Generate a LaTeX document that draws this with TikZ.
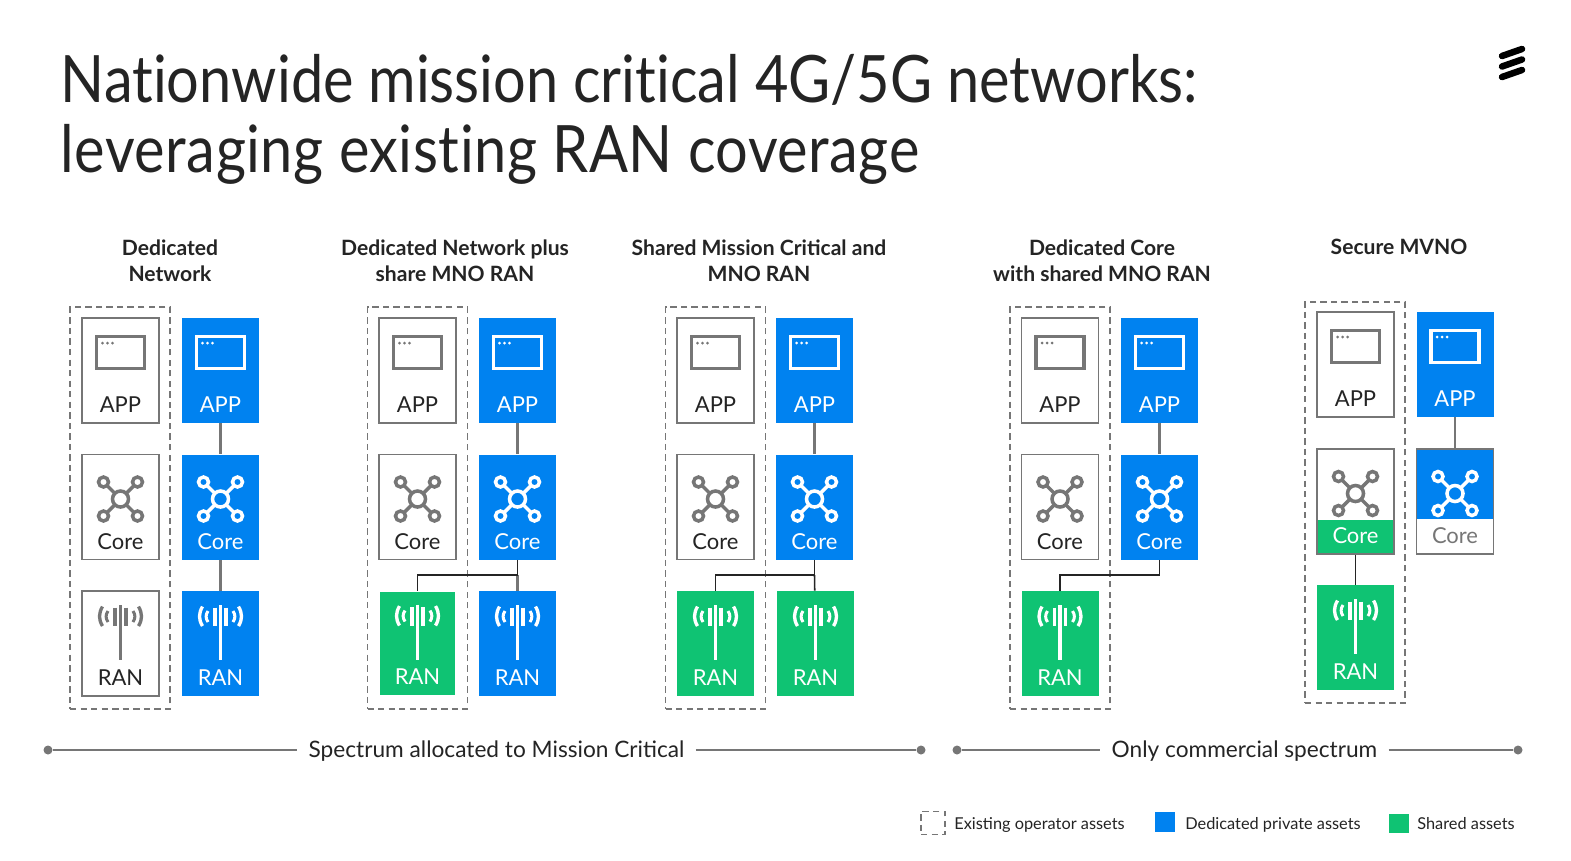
\documentclass[tikz,border=0pt]{standalone}
\usepackage{fontspec}
\setmainfont{Lato}
\newfontfamily\titlefont[FakeStretch=0.883,Ligatures=NoCommon]{Lato}
\usepackage{tikz}
\definecolor{ericblue}{HTML}{0082F0}
\definecolor{ericgreen}{HTML}{0FC373}
\definecolor{ericgrey}{HTML}{767676}
\definecolor{ericink}{HTML}{242424}
\tikzset{
  tile/.style={minimum width=1.54cm,inner xsep=0pt,inner ysep=0pt,text height=1.89cm,text depth=0.21cm,font=\fontsize{12.5}{14}\selectfont},
  oldtile/.style={tile,draw=ericgrey,line width=1pt,fill=white,text=ericink},
  bluetile/.style={tile,fill=ericblue,text=white},
  greentile/.style={tile,fill=ericgreen,text=white},
  dashbox/.style={draw=ericgrey,line width=1pt,dash pattern=on 3.6pt off 2.4pt,minimum width=2cm,inner sep=0pt},
  link/.style={draw=ericgrey,line width=1.2pt},
  feed/.style={draw=ericink,line width=0.9pt},
  heading/.style={align=center,font=\fontsize{12}{14.8}\selectfont\bfseries,text=ericink,inner sep=0pt},
  span/.style={draw=ericgrey,line width=1.1pt},
  spantext/.style={font=\fontsize{12.9}{15}\selectfont,text=ericink,inner sep=0pt},
  dot/.style={circle,fill=ericgrey,minimum size=0.18cm,inner sep=0pt},
  keytext/.style={anchor=base west,font=\fontsize{9.3}{11}\selectfont,text=ericink,inner sep=0pt}
}
\newcommand{\appicon}[2]{
\begin{scope}[shift={(#1.center)}]
\draw[#2,line width=1.9pt] (-24,-34) rectangle (24,-2);
\fill[#2] (-18,-27.5) circle (1.5);
\fill[#2] (-13,-27.5) circle (1.5);
\fill[#2] (-8,-27.5) circle (1.5);
\end{scope}
}
\newcommand{\coreicon}[2]{
\begin{scope}[shift={(#1.center)},yshift=0.16cm]
\draw[#2,line width=2pt] (0,0) circle (8);
\draw[#2,line width=2pt] (-17,-17) circle (5);
\draw[#2,line width=2pt] (17,-17) circle (5);
\draw[#2,line width=2pt] (-17,17) circle (5);
\draw[#2,line width=2pt] (17,17) circle (5);
\draw[#2,line width=2pt] (-5.7,-5.7) -- (-13.5,-13.5);
\draw[#2,line width=2pt] (5.7,-5.7) -- (13.5,-13.5);
\draw[#2,line width=2pt] (-5.7,5.7) -- (-13.5,13.5);
\draw[#2,line width=2pt] (5.7,5.7) -- (13.5,13.5);
\end{scope}
}
\newcommand{\ranicon}[2]{
\begin{scope}[shift={(#1.center)}]
\draw[#2,line width=2pt] (0,-38.5) -- (0,16.5);
\draw[#2,line width=2pt] (-5.5,-36) -- (-5.5,-17.5);
\draw[#2,line width=2pt] (5.5,-36) -- (5.5,-17.5);
\draw[#2,line width=1.9pt] (-18,-37) .. controls (-22,-30) and (-22,-24) .. (-18,-17.5);
\draw[#2,line width=1.9pt] (18,-37) .. controls (22,-30) and (22,-24) .. (18,-17.5);
\draw[#2,line width=1.7pt] (-12.5,-32.5) .. controls (-15,-29) and (-15,-25) .. (-12.5,-21.5);
\draw[#2,line width=1.7pt] (12.5,-32.5) .. controls (15,-29) and (15,-25) .. (12.5,-21.5);
\end{scope}
}
\begin{document}
\begin{tikzpicture}[x=0.02cm,y=-0.02cm]
\fill[white] (0,0) rectangle (1571,860);
\useasboundingbox (0,0) rectangle (1571,860);

\node[anchor=north west,align=left,inner sep=0pt,text=ericink,font=\titlefont\fontsize{37.2}{39.3}\selectfont] (title) at (60.5,54.5) {Nationwide mission critical 4G/5G networks:\\\addfontfeature{LetterSpace=0.8}leveraging existing RAN coverage};

\coordinate (logoA) at (1502,56);
\coordinate (logoB) at (1522,49);
\coordinate (logoC) at (1502,66.5);
\coordinate (logoD) at (1522,59.5);
\coordinate (logoE) at (1502,77);
\coordinate (logoF) at (1522,70);
\draw[black,line width=3.7pt,line cap=round] (logoA) -- (logoB);
\draw[black,line width=3.7pt,line cap=round] (logoC) -- (logoD);
\draw[black,line width=3.7pt,line cap=round] (logoE) -- (logoF);

\node[heading] (headA) at (170,261) {Dedicated\\Network};
\node[heading] (headB) at (455,261) {Dedicated Network plus\\share MNO RAN};
\node[heading] (headC) at (759,261) {Shared Mission Critical and\\MNO RAN};
\node[heading] (headD) at (1102,261) {Dedicated Core\\with shared MNO RAN};
\node[heading] (headE) at (1399,247) {Secure MVNO};

% dedicated network
\node[dashbox,minimum height=8.03cm] (dashA) at (120,508) {};
\node[oldtile] (appA) at (120.5,370.5) {APP};
\node[oldtile] (coreA) at (120.5,507) {Core};
\node[oldtile] (ranA) at (120.5,643.5) {RAN};
\node[bluetile] (appAb) at (220.5,370.5) {APP};
\node[bluetile] (coreAb) at (220.5,507) {Core};
\node[bluetile] (ranAb) at (220.5,643.5) {RAN};
\draw[link] (appAb) -- (coreAb);
\draw[link] (coreAb) -- (ranAb);
\appicon{appA}{ericgrey}
\coreicon{coreA}{ericgrey}
\ranicon{ranA}{ericgrey}
\appicon{appAb}{white}
\coreicon{coreAb}{white}
\ranicon{ranAb}{white}

% dedicated network plus shared ran
\node[dashbox,minimum height=8.03cm] (dashB) at (417.5,508) {};
\node[oldtile] (appB) at (417.5,370.5) {APP};
\node[oldtile] (coreB) at (417.5,507) {Core};
\node[greentile,minimum width=1.5cm,text height=1.85cm] (ranB) at (417.5,643) {RAN};
\node[bluetile] (appBb) at (517.5,370.5) {APP};
\node[bluetile] (coreBb) at (517.5,507) {Core};
\node[bluetile] (ranBb) at (517.5,643.5) {RAN};
\coordinate (busB) at (517.5,575);
\draw[link] (appBb) -- (coreBb);
\draw[link] (busB) -- (ranBb);
\draw[feed] (coreBb) -- (busB) -| (ranB);
\appicon{appB}{ericgrey}
\coreicon{coreB}{ericgrey}
\ranicon{ranB}{white}
\appicon{appBb}{white}
\coreicon{coreBb}{white}
\ranicon{ranBb}{white}

% shared mission critical
\node[dashbox,minimum height=8.03cm] (dashC) at (715.5,508) {};
\node[oldtile] (appC) at (715.5,370.5) {APP};
\node[oldtile] (coreC) at (715.5,507) {Core};
\node[greentile] (ranC) at (715.5,643.5) {RAN};
\node[bluetile] (appCb) at (814.5,370.5) {APP};
\node[bluetile] (coreCb) at (814.5,507) {Core};
\node[greentile] (ranCb) at (815.5,643.5) {RAN};
\coordinate (busC) at (814.5,575);
\draw[link] (appCb) -- (coreCb);
\draw[feed] (coreCb) -- (busC) -| (ranC);
\draw[feed] (busC) -- (ranCb);
\appicon{appC}{ericgrey}
\coreicon{coreC}{ericgrey}
\ranicon{ranC}{white}
\appicon{appCb}{white}
\coreicon{coreCb}{white}
\ranicon{ranCb}{white}

% dedicated core
\node[dashbox,minimum height=8.03cm] (dashD) at (1060,508) {};
\node[oldtile] (appD) at (1060,370.5) {APP};
\node[oldtile] (coreD) at (1060,507) {Core};
\node[greentile] (ranD) at (1060,643.5) {RAN};
\node[bluetile] (appDb) at (1159.5,370.5) {APP};
\node[bluetile] (coreDb) at (1159.5,507) {Core};
\coordinate (busD) at (1159.5,575);
\draw[link] (appDb) -- (coreDb);
\draw[feed] (coreDb) -- (busD) -| (ranD);
\appicon{appD}{ericgrey}
\coreicon{coreD}{ericgrey}
\ranicon{ranD}{white}
\appicon{appDb}{white}
\coreicon{coreDb}{white}

% secure mvno
\node[dashbox,minimum height=8.03cm] (dashE) at (1355,502.5) {};
\node[oldtile] (appE) at (1355.5,364.5) {APP};
\node[oldtile,text=white,path picture={\fill[ericgreen] (path picture bounding box.south west) rectangle ([yshift=0.69cm]path picture bounding box.south east);}] (coreE) at (1355.5,501.5) {Core};
\node[greentile] (ranE) at (1355.5,637.5) {RAN};
\node[bluetile] (appEb) at (1455,364.5) {APP};
\node[oldtile,text=ericgrey,path picture={\fill[ericblue] (path picture bounding box.north west) rectangle ([yshift=0.7cm]path picture bounding box.south east);}] (coreEb) at (1455,501.5) {Core};
\draw[link] (appEb) -- (coreEb);
\draw[feed] (coreE) -- (ranE);
\appicon{appE}{ericgrey}
\coreicon{coreE}{ericgrey}
\ranicon{ranE}{white}
\appicon{appEb}{white}
\coreicon{coreEb}{white}

% spectrum bars
\node[spantext] (specA) at (496.5,751.5) {Spectrum allocated to Mission Critical};
\node[dot] (dotA) at (48,750) {};
\node[dot] (dotB) at (921,750) {};
\draw[span] (dotA) -- ([xshift=-0.22cm]specA.west |- dotA);
\draw[span] ([xshift=0.22cm]specA.east |- dotB) -- (dotB);
\node[spantext] (specB) at (1244.5,751.5) {Only commercial spectrum};
\node[dot] (dotC) at (957,750) {};
\node[dot] (dotD) at (1518,750) {};
\draw[span] (dotC) -- ([xshift=-0.22cm]specB.west |- dotC);
\draw[span] ([xshift=0.22cm]specB.east |- dotD) -- (dotD);

% legend
\node[dashbox,draw=ericgrey,minimum width=0.48cm,minimum height=0.46cm] (keyA) at (933,823) {};
\node[keytext] (keyAt) at (954,829) {Existing operator assets};
\node[fill=ericblue,minimum size=0.4cm,inner sep=0pt] (keyB) at (1165,822) {};
\node[keytext] (keyBt) at (1185,829) {Dedicated private assets};
\node[fill=ericgreen,minimum size=0.39cm,inner sep=0pt] (keyC) at (1399,823.5) {};
\node[keytext] (keyCt) at (1417,829) {Shared assets};
\end{tikzpicture}
\end{document}
